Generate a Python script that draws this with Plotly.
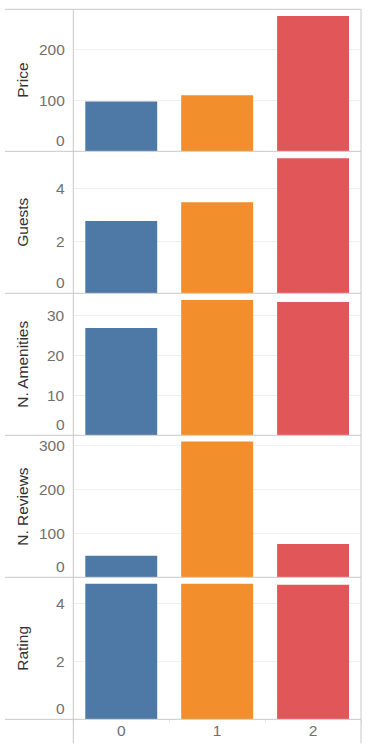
import plotly.graph_objects as go

# ---- data ----
clusters = ["0", "1", "2"]
price = [98, 110, 266]
guests = [2.76, 3.48, 5.16]
amenities = [26.8, 33.8, 33.3]
reviews = [49, 310, 76]
rating = [4.70, 4.70, 4.66]

measures = ["Price", "Guests", "N. Amenities", "N. Reviews", "Rating"]
price_ticks = [0, 100, 200]
guests_ticks = [0, 2, 4]
amenities_ticks = [0, 10, 20, 30]
reviews_ticks = [0, 100, 200, 300]
rating_ticks = [0, 2, 4]

# ---- style / layout constants ----
colors = ["#4e79a7", "#f28e2b", "#e15759"]
W, H = 375, 748
TOP = 9.3
PH = 142.0
LEFT = 73.3
RIGHT = 361.0
HEAD_LEFT = 5.0
VLINE_BOTTOM = 743.3
FONT = "Liberation Sans, Arial, sans-serif"
FSIZE = 15.5
LINE = "#c8c8c8"
GRID = "#f0f0f0"
TICKC = "#707070"
TITLEC = "#333333"

series = [price, guests, amenities, reviews, rating]
ticks = [price_ticks, guests_ticks, amenities_ticks, reviews_ticks, rating_ticks]
ymax = [279, 5.43, 35.5, 324, 4.92]


def py(p):
    return 1 - p / H


def px(p):
    return p / W


fig = go.Figure()
annotations = []
layout = dict(
    width=W, height=H,
    margin=dict(l=0, r=0, t=0, b=0),
    paper_bgcolor="white", plot_bgcolor="white",
    showlegend=False, barmode="overlay", bargap=0.25,
    font=dict(family=FONT, size=FSIZE, color=TICKC),
)

for i in range(5):
    yname = "y" if i == 0 else f"y{i+1}"
    top = TOP + PH * i
    bot = top + PH
    fig.add_trace(go.Bar(
        x=clusters, y=series[i], marker=dict(color=colors, line=dict(width=0)),
        xaxis="x", yaxis=yname, hoverinfo="x+y", width=0.75,
    ))
    layout["yaxis" if i == 0 else f"yaxis{i+1}"] = dict(
        domain=[py(bot), py(top)], anchor="x", range=[0, ymax[i]],
        tickvals=ticks[i], showticklabels=False, showgrid=True,
        gridcolor=GRID, gridwidth=1, zeroline=False, showline=False,
        fixedrange=True,
    )
    for v in ticks[i]:
        annotations.append(dict(
            text=str(v), x=px(66.5), xref="paper", xanchor="right",
            y=v, yref=yname, yanchor="middle", yshift=10.5 if v == 0 else 0,
            showarrow=False, font=dict(family=FONT, size=FSIZE, color=TICKC),
        ))
    annotations.append(dict(
        text=measures[i], textangle=-90, x=px(22.5), xref="paper", xanchor="center",
        y=py((top + bot) / 2), yref="paper", yanchor="middle", showarrow=False,
        font=dict(family=FONT, size=FSIZE, color=TITLEC),
    ))

layout["xaxis"] = dict(
    domain=[px(LEFT), px(RIGHT)], anchor="y5", type="category",
    range=[-0.5, 2.5], tickson="boundaries", ticks="outside", ticklen=3,
    tickcolor="#e6e6e6", tickfont=dict(family=FONT, size=FSIZE, color=TICKC),
    showgrid=False, zeroline=False, showline=False, fixedrange=True,
)

shapes = []
for k in range(6):
    yp = TOP + PH * k
    shapes.append(dict(type="line", xref="paper", yref="paper",
                       x0=px(HEAD_LEFT), x1=px(RIGHT), y0=py(yp), y1=py(yp),
                       line=dict(color=LINE, width=1)))
for xp in (LEFT, RIGHT):
    shapes.append(dict(type="line", xref="paper", yref="paper",
                       x0=px(xp), x1=px(xp), y0=py(TOP), y1=py(VLINE_BOTTOM),
                       line=dict(color=LINE, width=1)))

layout["shapes"] = shapes
layout["annotations"] = annotations
fig.update_layout(**layout)
fig.write_html(
    "out.html",
    config={"displayModeBar": False},
    post_script="document.body.style.margin='0';document.body.style.overflow='hidden';",
)
